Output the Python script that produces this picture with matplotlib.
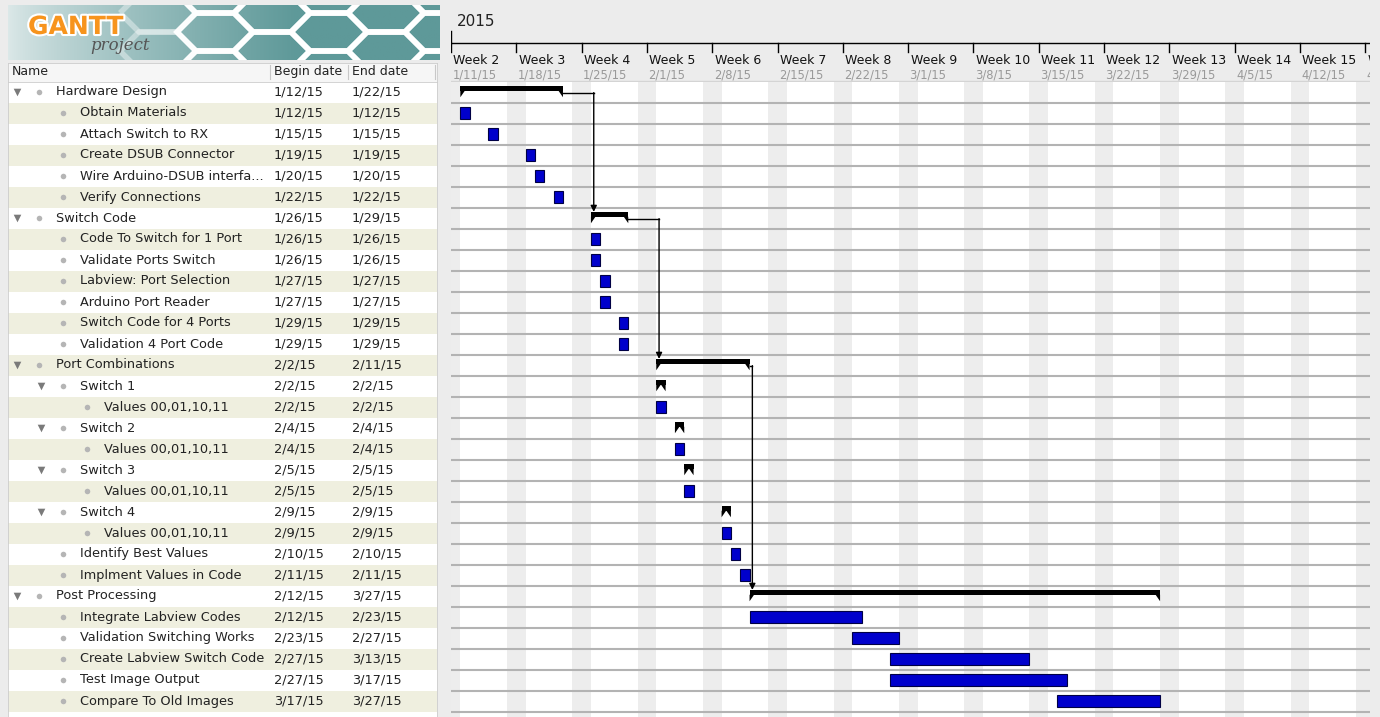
import datetime as dt

import numpy as np
from matplotlib import pyplot as plt
from matplotlib.patches import Polygon, Rectangle
import matplotlib.patheffects as pe

# task table as shown in the project file
names = ["Hardware Design", "Obtain Materials", "Attach Switch to RX", "Create DSUB Connector",
         "Wire Arduino-DSUB interfa...", "Verify Connections", "Switch Code", "Code To Switch for 1 Port",
         "Validate Ports Switch", "Labview: Port Selection", "Arduino Port Reader",
         "Switch Code for 4 Ports", "Validation 4 Port Code", "Port Combinations", "Switch 1",
         "Values 00,01,10,11", "Switch 2", "Values 00,01,10,11", "Switch 3", "Values 00,01,10,11",
         "Switch 4", "Values 00,01,10,11", "Identify Best Values", "Implment Values in Code",
         "Post Processing", "Integrate Labview Codes", "Validation Switching Works",
         "Create Labview Switch Code", "Test Image Output", "Compare To Old Images"]
begins = ["1/12/15", "1/12/15", "1/15/15", "1/19/15", "1/20/15", "1/22/15", "1/26/15", "1/26/15",
          "1/26/15", "1/27/15", "1/27/15", "1/29/15", "1/29/15", "2/2/15", "2/2/15", "2/2/15",
          "2/4/15", "2/4/15", "2/5/15", "2/5/15", "2/9/15", "2/9/15", "2/10/15", "2/11/15",
          "2/12/15", "2/12/15", "2/23/15", "2/27/15", "2/27/15", "3/17/15"]
ends = ["1/22/15", "1/12/15", "1/15/15", "1/19/15", "1/20/15", "1/22/15", "1/29/15", "1/26/15",
        "1/26/15", "1/27/15", "1/27/15", "1/29/15", "1/29/15", "2/11/15", "2/2/15", "2/2/15",
        "2/4/15", "2/4/15", "2/5/15", "2/5/15", "2/9/15", "2/9/15", "2/10/15", "2/11/15",
        "3/27/15", "2/23/15", "2/27/15", "3/13/15", "3/17/15", "3/27/15"]
levels = [0, 1, 1, 1, 1, 1, 0, 1, 1, 1, 1, 1, 1, 0, 1, 2, 1, 2, 1, 2, 1, 2, 1, 1, 0, 1, 1, 1, 1, 1]
summary = [True, False, False, False, False, False, True, False, False, False, False, False, False,
           True, True, False, True, False, True, False, True, False, False, False,
           True, False, False, False, False, False]
# dependencies (predecessor row, successor row)
links = [(0, 6), (6, 13), (13, 24)]

chart_start = dt.date(2015, 1, 11)
n_weeks = 16

W, H = 1380, 717


def fig_rect(x0, y0, x1, y1):
    # pixel box -> figure fraction
    return [x0 / W, 1 - y1 / H, (x1 - x0) / W, (y1 - y0) / H]


def day_of(s):
    m, d, y = s.split("/")
    return (dt.date(2000 + int(y), int(m), int(d)) - chart_start).days


starts = np.array([day_of(s) for s in begins])
finish = np.array([day_of(s) + 1 for s in ends])
rows = np.arange(len(names))

fig = plt.figure(figsize=(13.8, 7.17), dpi=100, facecolor="#ececec")

row_top_px = 81.5
row_px = 21
y_bottom = (H - row_top_px) / row_px - 0.5
day_px = 65.31 / 7
x_max = (1370 - 451) / day_px

# ---- logo
lax = fig.add_axes(fig_rect(8, 5, 440, 60))
lax.set_xlim(0, 432)
lax.set_ylim(55, 0)
grad = np.linspace(0, 1, 256)
grad = np.clip(grad * 1.5, 0, 1)[None, :] ** 0.8
c0 = np.array([0.86, 0.91, 0.91])
c1 = np.array([0.37, 0.60, 0.60])
img = c0[None, None, :] * (1 - grad[..., None]) + c1[None, None, :] * grad[..., None]
lax.imshow(img, extent=[0, 432, 55, 0], aspect="auto")
ha, hb = 38, 19
for col in range(9):
    cx = 150 + col * 1.5 * ha
    for r in range(-1, 3):
        cy = r * 2 * hb + (hb if col % 2 else 0) + 8
        hexv = [(cx - ha, cy), (cx - ha / 2, cy - hb), (cx + ha / 2, cy - hb),
                (cx + ha, cy), (cx + ha / 2, cy + hb), (cx - ha / 2, cy + hb)]
        lax.add_patch(Polygon(hexv, facecolor="none", edgecolor="white",
                              lw=4, alpha=float(np.clip((cx - 110) / 100, 0.2, 1.0))))
lax.text(20, 22, "GANTT", color="#f7941d", fontsize=18, fontweight="bold", va="center",
         path_effects=[pe.withStroke(linewidth=3, foreground="white")])
lax.text(82, 41, "project", color="#555555", fontsize=12, style="italic", family="DejaVu Serif",
         va="center")
lax.axis("off")

# ---- table header
thax = fig.add_axes(fig_rect(8, 63, 437, row_top_px))
thax.set_xlim(8, 437)
thax.set_ylim(row_top_px, 63)
thax.set_facecolor("#f6f6f6")
thax.text(12, 71.5, "Name", fontsize=9, va="center", color="#222222")
thax.text(274, 71.5, "Begin date", fontsize=9, va="center", color="#222222")
thax.text(352, 71.5, "End date", fontsize=9, va="center", color="#222222")
for sx in [270, 348, 435]:
    thax.plot([sx, sx], [65, 79], color="#c8c8c8", lw=0.8)
thax.set_xticks([])
thax.set_yticks([])
for s in thax.spines.values():
    s.set_color("#cccccc")
    s.set_linewidth(0.6)

# ---- table body
tax = fig.add_axes(fig_rect(8, row_top_px, 437, H))
tax.set_xlim(8, 437)
tax.set_ylim(y_bottom, -0.5)
tax.set_facecolor("white")
for i in rows:
    if i % 2 == 1:
        tax.axhspan(i - 0.5, i + 0.5, color="#efefdf", lw=0)
for i in rows:
    lv = levels[i]
    if summary[i]:
        tax.scatter(17 + 24 * lv, i, marker="v", s=30, color="#7a7a7a", lw=0)
    tax.scatter(39 + 24 * lv, i, marker="o", s=16, color="#b5b5b5", lw=0)
    tax.text(56 + 24 * lv, i, names[i], fontsize=9.3, va="center", color="#222222")
    tax.text(274, i, begins[i], fontsize=9.3, va="center", color="#222222")
    tax.text(352, i, ends[i], fontsize=9.3, va="center", color="#222222")
tax.set_xticks([])
tax.set_yticks([])
for s in tax.spines.values():
    s.set_color("#cccccc")
    s.set_linewidth(0.6)

# ---- timeline header
hax = fig.add_axes(fig_rect(451, 0, 1370, row_top_px))
hax.set_xlim(0, x_max)
hax.set_ylim(row_top_px, 0)
hax.set_facecolor("#eeeeee")
hax.text(0.6, 22, "2015", fontsize=11, va="center", color="#222222")
hax.plot([0, x_max], [43, 43], color="black", lw=1)
hax.plot([0, 0], [31, 43], color="black", lw=1)
for k in range(n_weeks):
    x = 7 * k
    wk_date = chart_start + dt.timedelta(days=x)
    hax.plot([x, x], [43, 52], color="black", lw=1)
    hax.text(x + 0.25, 61, "Week %d" % (k + 2), fontsize=9, va="center", color="#111111",
             clip_on=True)
    hax.text(x + 0.15, 75, "%d/%d/15" % (wk_date.month, wk_date.day), fontsize=8.3,
             va="center", color="#999999", clip_on=True)
hax.plot([0, x_max], [80.8, 80.8], color="#d4d4d4", lw=1)
hax.axis("off")

# ---- chart body
ax = fig.add_axes(fig_rect(451, row_top_px, 1370, H))
ax.set_xlim(0, x_max)
ax.set_ylim(y_bottom, -0.5)
ax.set_facecolor("white")
for d in range(0, int(x_max) + 1):
    if d % 7 in (6, 0):
        ax.axvspan(d, d + 1, color="#ededed", lw=0)
for i in rows:
    ax.axhline(i + 0.5, color="#b3b3b3", lw=1.5)

leaf = ~np.array(summary)
ax.barh(rows[leaf], (finish - starts)[leaf], left=starts[leaf], height=0.57,
        color="#0000cc", edgecolor="#000044", lw=0.8, zorder=3)

tri_w = 4.5 / day_px
for i in rows[np.array(summary)]:
    x0, x1 = starts[i], finish[i]
    ax.add_patch(Rectangle((x0, i - 0.29), x1 - x0, 0.24, color="black", lw=0, zorder=3))
    ax.add_patch(Polygon([(x0, i - 0.06), (x0 + tri_w, i - 0.06), (x0, i + 0.25)],
                         color="black", lw=0, zorder=3))
    ax.add_patch(Polygon([(x1, i - 0.06), (x1 - tri_w, i - 0.06), (x1, i + 0.25)],
                         color="black", lw=0, zorder=3))

for a, b in links:
    xv = starts[b] + 0.3
    ax.plot([finish[a], xv], [a + 0.03, a + 0.03], color="black", lw=1, zorder=4)
    ax.annotate("", xy=(xv, b - 0.29), xytext=(xv, a + 0.03),
                arrowprops=dict(arrowstyle="-|>", color="black", lw=1, mutation_scale=9,
                                shrinkA=0, shrinkB=0), zorder=4)

ax.set_xticks([])
ax.set_yticks([])
for s in ax.spines.values():
    s.set_visible(False)

fig.savefig("out.png", dpi=100, facecolor=fig.get_facecolor())
